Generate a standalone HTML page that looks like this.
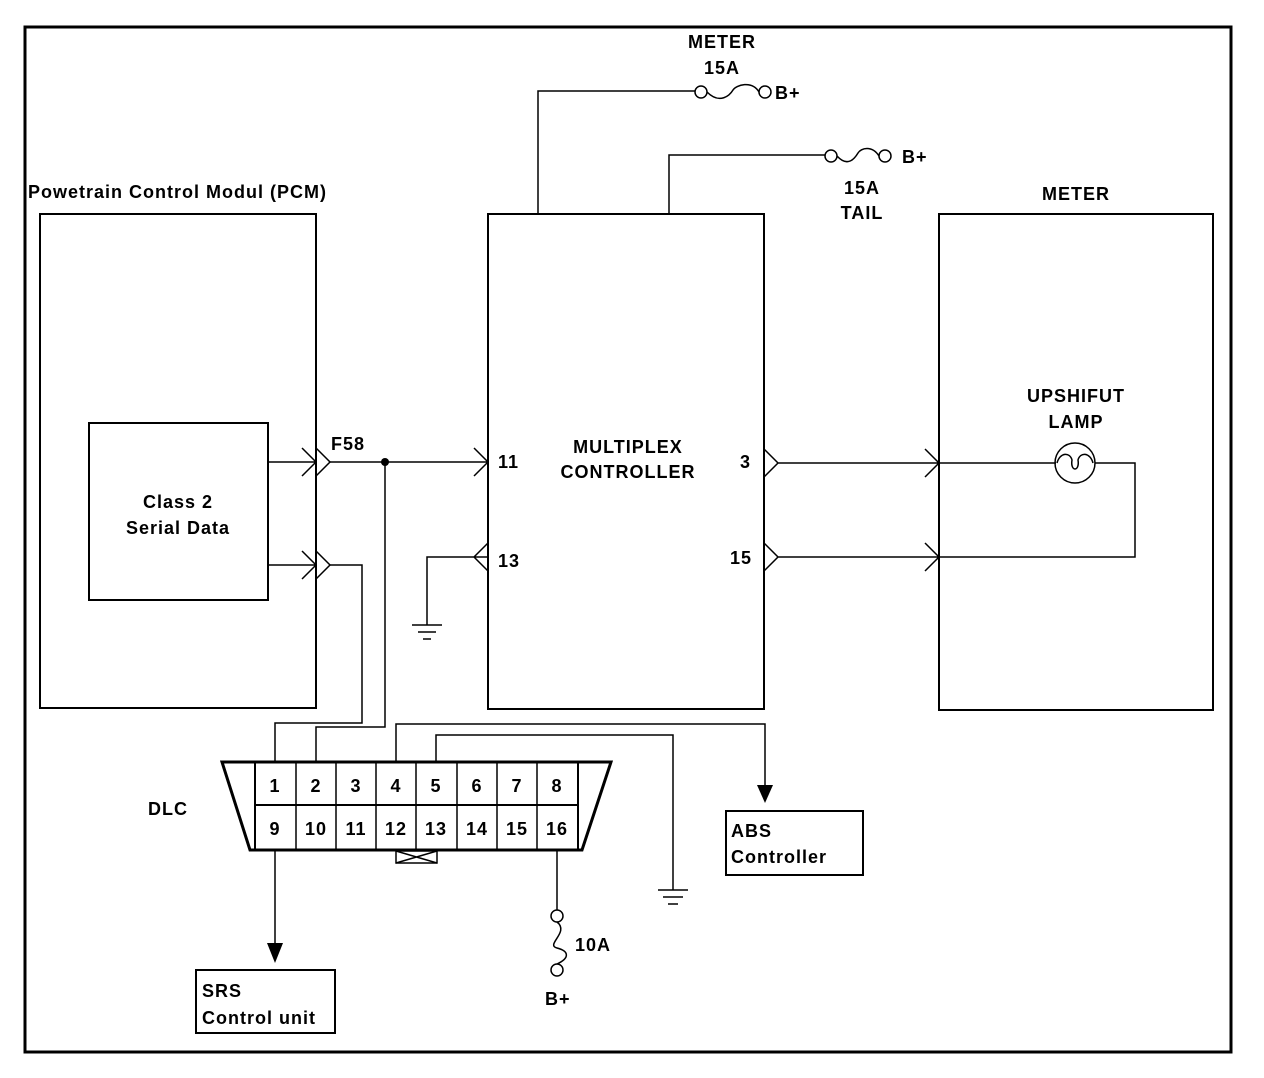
<!DOCTYPE html>
<html><head><style>body{margin:0;background:#fff}svg{display:block}text{font-family:"Liberation Sans",sans-serif;font-size:18px;fill:#000;font-weight:bold;letter-spacing:1px}</style></head><body>
<svg width="1264" height="1078" viewBox="0 0 1264 1078" xmlns="http://www.w3.org/2000/svg">
<rect x="0" y="0" width="1264" height="1078" fill="#fff"/>
<g fill="none" stroke="#000">
<rect x="25" y="27" width="1206" height="1025" stroke-width="3"/>
<rect x="40" y="214" width="276" height="494" stroke-width="2"/>
<rect x="89" y="423" width="179" height="177" stroke-width="2"/>
<rect x="488" y="214" width="276" height="495" stroke-width="2"/>
<rect x="939" y="214" width="274" height="496" stroke-width="2"/>
<g stroke-width="1.5">
<path d="M268 462H316M302 448L316 462L302 476M316 448L330 462L316 476"/>
<path d="M268 565H316M302 551L316 565L302 579M316 551L330 565L316 579"/>
<path d="M330 462H488M474 448L488 462L474 476"/>
<path d="M385 462V727H316V762"/>
<path d="M330 565H362V723H275V762"/>
<path d="M488 557H427V625M488 543L474 557L488 571"/>
<path d="M412 625H442M418 632H436M423 639H431"/>
<path d="M538 214V91H695"/>
<circle cx="701" cy="92" r="6"/><circle cx="765" cy="92" r="6"/>
<path d="M707 92C720 105 730 95 733 90S752 80 759 92"/>
<path d="M669 214V155H825"/>
<circle cx="831" cy="156" r="6"/><circle cx="885" cy="156" r="6"/>
<path d="M837 156C848 168 855 158 858 153S872 145 879 156"/>
<path d="M764 449L778 463L764 477M778 463H1056M925 449L939 463L925 477"/>
<path d="M764 543L778 557L764 571M778 557H1135V463H1095M925 543L939 557L925 571"/>
<circle cx="1075" cy="463" r="20"/>
<path d="M1057 463C1060 452 1070 452 1072 460C1070 472 1080 472 1078 460C1080 452 1090 452 1093 463"/>
<path d="M396 762V724H765V790"/>
<path d="M436 762V735H673V890"/>
<path d="M658 890H688M663 897H683M668 904H678"/>
<path d="M275 850V945"/>
<path d="M557 850V910"/>
<circle cx="557" cy="916" r="6"/><circle cx="557" cy="970" r="6"/>
<path d="M557 922C570 932 545 945 557 948S570 958 557 964"/>
<rect x="396" y="851" width="41" height="12"/>
<path d="M396 851L437 863M396 863L437 851"/>
</g>
<path d="M222 762H611L582 850H250Z" stroke-width="3"/>
<path d="M255 762V849M578 762V849M255 805H578" stroke-width="2"/>
<path d="M296 762V849M336 762V849M376 762V849M416 762V849M457 762V849M497 762V849M537 762V849" stroke-width="1.5"/>
<rect x="726" y="811" width="137" height="64" stroke-width="2"/>
<rect x="196" y="970" width="139" height="63" stroke-width="2"/>
</g>
<circle cx="385" cy="462" r="4" fill="#000"/>
<path d="M757 785H773L765 803Z" fill="#000"/>
<path d="M267 943H283L275 963Z" fill="#000"/>
<text x="28" y="198">Powetrain Control Modul (PCM)</text>
<text x="178" y="508" text-anchor="middle">Class 2</text>
<text x="178" y="534" text-anchor="middle">Serial Data</text>
<text x="331" y="450">F58</text>
<text x="498" y="468">11</text>
<text x="498" y="567">13</text>
<text x="628" y="453" text-anchor="middle">MULTIPLEX</text>
<text x="628" y="478" text-anchor="middle">CONTROLLER</text>
<text x="740" y="468">3</text>
<text x="730" y="564">15</text>
<text x="722" y="48" text-anchor="middle">METER</text>
<text x="722" y="74" text-anchor="middle">15A</text>
<text x="775" y="99">B+</text>
<text x="902" y="163">B+</text>
<text x="862" y="194" text-anchor="middle">15A</text>
<text x="862" y="219" text-anchor="middle">TAIL</text>
<text x="1076" y="200" text-anchor="middle">METER</text>
<text x="1076" y="402" text-anchor="middle">UPSHIFUT</text>
<text x="1076" y="428" text-anchor="middle">LAMP</text>
<text x="148" y="815">DLC</text>
<g text-anchor="middle">
<text x="275" y="792">1</text><text x="316" y="792">2</text><text x="356" y="792">3</text><text x="396" y="792">4</text><text x="436" y="792">5</text><text x="477" y="792">6</text><text x="517" y="792">7</text><text x="557" y="792">8</text>
<text x="275" y="835">9</text><text x="316" y="835">10</text><text x="356" y="835">11</text><text x="396" y="835">12</text><text x="436" y="835">13</text><text x="477" y="835">14</text><text x="517" y="835">15</text><text x="557" y="835">16</text>
</g>
<text x="731" y="837">ABS</text>
<text x="731" y="863">Controller</text>
<text x="202" y="997">SRS</text>
<text x="202" y="1024">Control unit</text>
<text x="575" y="951">10A</text>
<text x="545" y="1005">B+</text>
</svg>
</body></html>
